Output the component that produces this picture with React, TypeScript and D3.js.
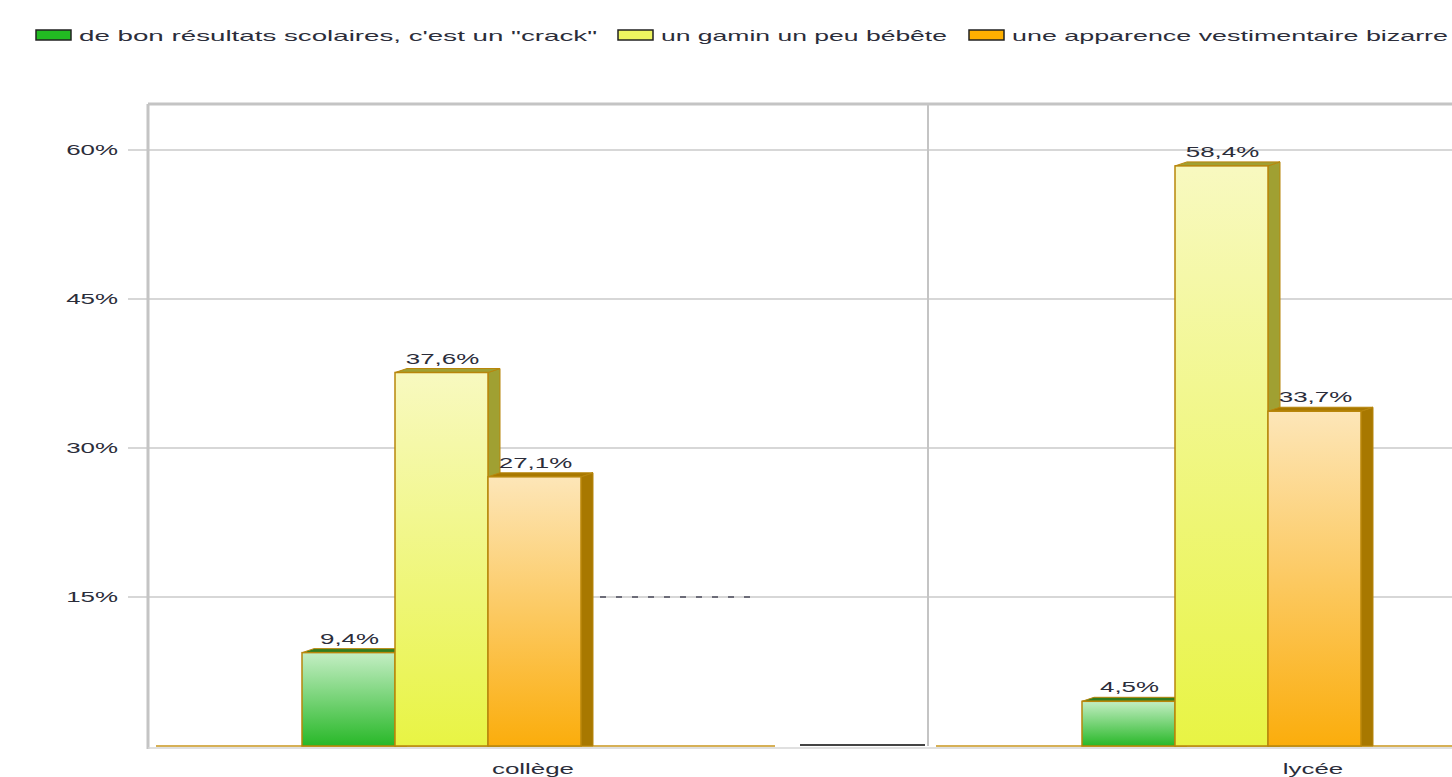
import React from "react";
import * as d3 from "d3";

const categories = ["collège", "lycée"];
const seriesNames = [
  "de bon résultats scolaires, c'est un \"crack\"",
  "un gamin un peu bébête",
  "une apparence vestimentaire bizarre",
];
const crackValues = [9.4, 4.5];
const bebeteValues = [37.6, 58.4];
const bizarreValues = [27.1, 33.7];
const yTicks = [15, 30, 45, 60];

const seriesValues = [crackValues, bebeteValues, bizarreValues];
const fronts = [
  ["#c4eec4", "#28b828"],
  ["#f8f9c0", "#e8f444"],
  ["#fde6b8", "#fbad0c"],
];
const darks = ["#2f7d1f", "#a0a032", "#a87800"];
const swatch = ["#22bb22", "#eef560", "#ffb000"];
const legendX = [36, 618, 969];
const legendLen = [518, 286, 436];

const W = 1452;
const H = 777;
const SX = 1.85;
const FONT = "'Liberation Sans', Arial, sans-serif";
const fmt = (v: number) => v.toFixed(1).replace(".", ",") + "%";

function SText({ x, y, anchor = "middle", size = 14, children }: any) {
  return (
    <text
      transform={`translate(${x},${y}) scale(${SX},1)`}
      textAnchor={anchor}
      fontFamily={FONT}
      fontSize={size}
      fill="#2b2d3a"
    >
      {children}
    </text>
  );
}

export default function App() {
  const left = 148;
  const top = 104;
  const x = d3.scaleBand<string>().domain(categories).range([left, left + 2 * 780]).padding(0);
  const bw = x.bandwidth();
  const inner = d3.scaleBand<string>().domain(seriesNames).range([154, 433]).padding(0);
  const y = d3.scaleLinear().domain([0, 60]).range([746, 150]);
  const base = y(0);
  const dx = 12;
  const dy = 4;

  return (
    <svg width={W} height={H} style={{ position: "absolute", left: 0, top: 0, background: "#fff" }}>
      <defs>
        {fronts.map((c, i) => (
          <linearGradient key={i} id={`g${i}`} x1="0" y1="0" x2="0" y2="1">
            <stop offset="0%" stopColor={c[0]} />
            <stop offset="100%" stopColor={c[1]} />
          </linearGradient>
        ))}
      </defs>

      {/* legend */}
      {seriesNames.map((s, i) => (
        <g key={s}>
          <rect x={legendX[i]} y={30} width={35} height={10} fill={swatch[i]} stroke="#222" strokeWidth={1.5} />
          <text
            x={legendX[i] + 43}
            y={41}
            fontFamily={FONT}
            fontSize={15}
            fill="#2b2d3a"
            textLength={legendLen[i]}
            lengthAdjust="spacingAndGlyphs"
          >
            {s}
          </text>
        </g>
      ))}

      {/* grid */}
      {yTicks.map((t) => (
        <g key={t}>
          <line x1={128} x2={W} y1={y(t)} y2={y(t)} stroke="#cacaca" strokeWidth={1.5} />
          <SText x={118} y={y(t) + 5} anchor="end" size={14}>{`${t}%`}</SText>
        </g>
      ))}

      {/* frame */}
      <line x1={left} x2={W} y1={top} y2={top} stroke="#c4c4c4" strokeWidth={3} />
      <line x1={left} x2={left} y1={top} y2={base + 3} stroke="#c4c4c4" strokeWidth={3} />
      <line x1={left} x2={W} y1={base + 2} y2={base + 2} stroke="#d6d6d6" strokeWidth={1.5} />
      {categories.slice(1).map((c) => (
        <line key={c} x1={x(c)} x2={x(c)} y1={top} y2={base} stroke="#c4c4c4" strokeWidth={2} />
      ))}

      {/* stray dashes */}
      <line x1={600} x2={760} y1={y(15)} y2={y(15)} stroke="#4a4a5a" strokeWidth={1.5} strokeDasharray="6 10" />

      {/* baseline zero segments */}
      {categories.map((c) => {
        const cx0 = x(c)!;
        return (
          <g key={c}>
            <line x1={cx0 + 8} x2={cx0 + 627} y1={base} y2={base} stroke="#c8961e" strokeWidth={1.5} />
            <line x1={cx0 + 652} x2={cx0 + 777} y1={base - 1} y2={base - 1} stroke="#444" strokeWidth={2} />
          </g>
        );
      })}

      {/* bars */}
      {categories.map((c, ci) => (
        <g key={c}>
          {seriesNames.map((s, si) => {
            const v = seriesValues[si][ci];
            const x0 = x(c)! + inner(s)!;
            const x1 = x0 + inner.bandwidth();
            const yt = y(v);
            const side = `${x1},${yt} ${x1 + dx},${yt - dy} ${x1 + dx},${base} ${x1},${base}`;
            const topFace = `${x0},${yt} ${x0 + dx},${yt - dy} ${x1 + dx},${yt - dy} ${x1},${yt}`;
            return (
              <g key={s}>
                <polygon points={side} fill={darks[si]} stroke="#b8860b" strokeWidth={1} />
                <polygon points={topFace} fill={darks[si]} stroke="#b8860b" strokeWidth={1} />
                <rect x={x0} y={yt} width={x1 - x0} height={base - yt} fill={`url(#g${si})`} stroke="#b8860b" strokeWidth={1.5} />
              </g>
            );
          })}
          {seriesNames.map((s, si) => {
            const v = seriesValues[si][ci];
            const x0 = x(c)! + inner(s)!;
            return (
              <SText key={s} x={x0 + inner.bandwidth() / 2 + 1} y={y(v) - 9} size={14}>{fmt(v)}</SText>
            );
          })}
        </g>
      ))}

      {/* category labels */}
      {categories.map((c) => (
        <SText key={c} x={x(c)! + bw / 2 - 5} y={774} size={14}>{c}</SText>
      ))}
    </svg>
  );
}
